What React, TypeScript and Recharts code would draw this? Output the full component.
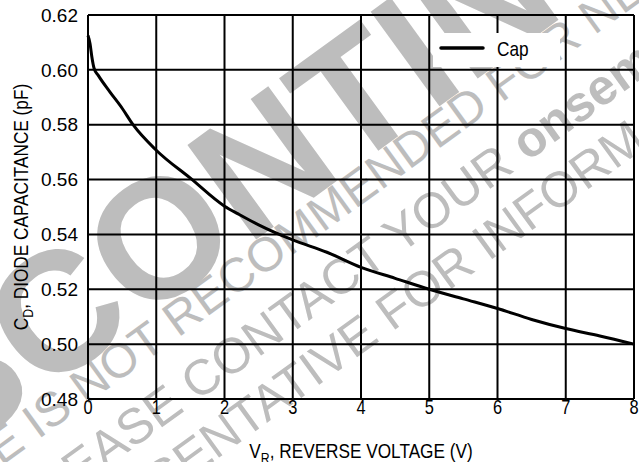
import React from 'react'
import { LineChart, Line, XAxis, YAxis, CartesianGrid, Legend } from 'recharts'

// reverse voltage (V) vs diode capacitance (pF)
const VOLTAGE = [0, 0.03, 0.055, 0.09, 0.15, 0.32, 0.5, 0.66, 1.0, 1.5, 2.0, 2.2, 2.5, 3.0, 3.5, 4.0, 4.5, 5.0, 5.5, 6.0, 6.5, 7.0, 7.5, 8.0]
const CAP = [0.6125, 0.6095, 0.605, 0.6005, 0.598, 0.592, 0.586, 0.58, 0.5707, 0.5605, 0.5503, 0.5475, 0.5435, 0.538, 0.5335, 0.528, 0.524, 0.52, 0.5165, 0.513, 0.509, 0.5057, 0.503, 0.5]

const X_TICKS = [0, 1, 2, 3, 4, 5, 6, 7, 8]
const Y_TICKS = [0.48, 0.5, 0.52, 0.54, 0.56, 0.58, 0.6, 0.62]

const data = VOLTAGE.map((v, i) => ({ v, cap: CAP[i] }))

const SANS = '"Liberation Sans", Arial, sans-serif'
const WM = '#bdbdbd'
const SQUEEZE = 0.82 // the original uses a condensed face

function Split({ x, y, angle, size, weight, gap, prefix, rest }: {
  x: number; y: number; angle: number; size: number; weight?: number | string; gap: number
  prefix: string; rest: React.ReactNode
}) {
  return (
    <g transform={`translate(${x},${y}) rotate(${angle})`} fill={WM} fontFamily={SANS} fontSize={size} fontWeight={weight}>
      <text x={-gap} y={0} textAnchor="end">{prefix}</text>
      <text x={0} y={0}>{rest}</text>
    </g>
  )
}

function Watermark() {
  return (
    <svg width={639} height={462} style={{ position: 'absolute', left: 0, top: 0 }}>
      <Split x={140} y={324} angle={-36} size={170} weight="bold" gap={0} prefix="DISC" rest="ONTINUED" />
      <Split x={178} y={338} angle={-36} size={48} gap={13} prefix="THIS DEVICE IS NOT" rest="RECOMMENDED FOR NEW DESIGN." />
      <Split x={197} y={402} angle={-36} size={50} gap={14} prefix="PLEASE"
        rest={<>CONTACT YOUR <tspan fontWeight="bold">onsemi</tspan></>} />
      <Split x={392} y={332} angle={-36} size={50} gap={14} prefix="REPRESENTATIVE" rest="FOR INFORMATION" />
    </svg>
  )
}

function LegendBox() {
  return (
    <div style={{ position: 'relative', width: 127, height: 34, background: '#fff' }}>
      <svg width={127} height={34} style={{ position: 'absolute', left: 0, top: 0 }}>
        <line x1={8} y1={15} x2={50} y2={15} stroke="#000" strokeWidth={3.5} strokeLinecap="round" />
        <text transform={`translate(64,22.5) scale(${SQUEEZE},1)`} fontFamily={SANS} fontSize={21} fill="#000">Cap</text>
      </svg>
    </div>
  )
}

function XTick({ x, y, payload }: any) {
  return (
    <text transform={`translate(${x},${y + 15}) scale(${SQUEEZE},1)`} textAnchor="middle" fontFamily={SANS} fontSize={20} fill="#000">
      {payload.value}
    </text>
  )
}

function XLabel({ viewBox }: any) {
  const cx = viewBox.x + viewBox.width / 2
  return (
    <text transform={`translate(${cx},458) scale(${SQUEEZE},1)`} textAnchor="middle" fontFamily={SANS} fontSize={21} fill="#000">
      V<tspan fontSize={15} dy={5}>R</tspan><tspan dy={-5}>, REVERSE VOLTAGE (V)</tspan>
    </text>
  )
}

function YLabel({ viewBox }: any) {
  const cy = viewBox.y + viewBox.height / 2
  return (
    <text transform={`translate(28,${cy}) rotate(-90) scale(${SQUEEZE},1)`} textAnchor="middle" fontFamily={SANS} fontSize={21} fill="#000">
      C<tspan fontSize={15} dy={5}>D</tspan><tspan dy={-5}>, DIODE CAPACITANCE (pF)</tspan>
    </text>
  )
}

export default function App() {
  return (
    <div style={{ position: 'absolute', left: 0, top: 0, width: 639, height: 462, background: '#fff' }}>
      <Watermark />
      <div style={{ position: 'absolute', left: 0, top: 0 }}>
        <LineChart width={639} height={462} data={data} margin={{ top: 15, right: 5, left: 0, bottom: 0 }}>
          <CartesianGrid stroke="#000" strokeWidth={2} fill="none" />
          <XAxis
            dataKey="v" type="number" domain={[0, 8]} ticks={X_TICKS} height={63}
            axisLine={false} tickLine={false} tickSize={0} tickMargin={0} interval={0}
            tick={<XTick />}
            label={<XLabel />}
          />
          <YAxis
            type="number" domain={[0.48, 0.62]} ticks={Y_TICKS} width={88}
            axisLine={false} tickLine={false} tickSize={0} tickMargin={10} interval={0}
            tickFormatter={(v: number) => v.toFixed(2)}
            tick={{ fill: '#000', fontSize: 19, fontFamily: SANS }}
            label={<YLabel />}
          />
          <Legend
            layout="horizontal" verticalAlign="middle" align="center"
            content={() => <LegendBox />}
            wrapperStyle={{ position: 'absolute', left: 433, top: 33, width: 127, height: 34 }}
          />
          <Line dataKey="cap" type="monotone" stroke="#000" strokeWidth={3} dot={false} isAnimationActive={false} />
        </LineChart>
      </div>
    </div>
  )
}
